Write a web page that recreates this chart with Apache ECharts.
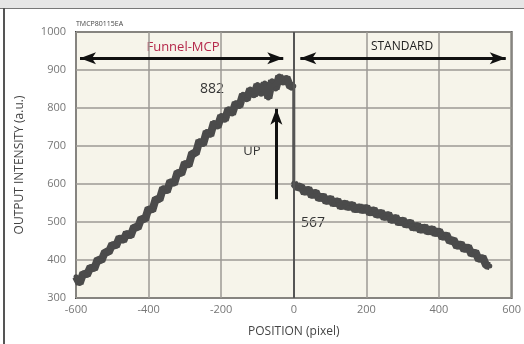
<!DOCTYPE html>
<html>
<head>
<meta charset="utf-8">
<script src="https://cdn.jsdelivr.net/npm/echarts@6/dist/echarts.min.js"></script>
<style>
  html, body { margin: 0; padding: 0; background: #fff; }
  #chart { width: 524px; height: 344px; }
</style>
</head>
<body>
<div id="chart"></div>
<script>
// Funnel-MCP side, position -600..0 every 10 px
var funnelX = [];
for (var i = -600; i <= 0; i += 10) funnelX.push(i);
var funnelY = [356, 338, 366, 360, 382, 376, 402, 398, 422, 420, 442, 436, 460, 450, 472, 462,
  488, 484, 510, 506, 536, 530, 562, 558, 590, 580, 608, 600, 632, 626, 656, 648, 682, 680,
  714, 704, 738, 728, 762, 750, 780, 768, 798, 784, 814, 804, 836, 822, 850, 832, 862, 836,
  866, 826, 872, 850, 884, 866, 880, 856, 858];

// STANDARD side, position 0..540 every 10 px
var standardX = [];
for (var j = 0; j <= 540; j += 10) standardX.push(j);
var standardY = [602, 590, 594, 576, 588, 568, 580, 560, 570, 552, 564, 546, 558, 538, 552,
  536, 548, 530, 542, 528, 540, 522, 534, 516, 527, 510, 522, 502, 514, 496, 507, 490, 501,
  482, 493, 476, 489, 472, 484, 468, 478, 458, 468, 448, 454, 434, 444, 426, 436, 414, 422,
  400, 408, 386, 384];

// drop at the boundary
var dropX = [0, 0];
var dropY = [858, 600];

var xTicks = [-600, -400, -200, 0, 200, 400, 600];
var yTicks = [300, 400, 500, 600, 700, 800, 900, 1000];

function pairs(xs, ys) {
  return xs.map(function (x, k) { return [x, ys[k]]; });
}

var chart = echarts.init(document.getElementById('chart'));
var FONT = 'Open Sans';
var BAND = '#4b4b4b';

chart.setOption({
  animation: false,
  backgroundColor: '#ffffff',
  grid: {
    left: 76, right: 12, top: 32, bottom: 46,
    show: true,
    backgroundColor: '#f6f4ea',
    borderColor: '#444',
    borderWidth: 2
  },
  xAxis: {
    type: 'value',
    min: xTicks[0], max: xTicks[xTicks.length - 1], interval: 200,
    name: 'POSITION (pixel)',
    nameLocation: 'middle',
    nameGap: 28,
    nameTextStyle: { color: '#444', fontSize: 12, fontFamily: FONT },
    axisLine: { show: false },
    axisTick: { show: false },
    axisLabel: { color: '#777', fontSize: 11, fontFamily: FONT, margin: 6 },
    splitLine: { show: true, lineStyle: { color: '#9c9a94', width: 1.5 } }
  },
  yAxis: {
    type: 'value',
    min: yTicks[0], max: yTicks[yTicks.length - 1], interval: 100,
    name: 'OUTPUT INTENSITY (a.u.)',
    nameLocation: 'middle',
    nameGap: 50,
    nameTextStyle: { color: '#444', fontSize: 12, fontFamily: FONT },
    axisLine: { show: false },
    axisTick: { show: false },
    axisLabel: { color: '#777', fontSize: 11, fontFamily: FONT, margin: 10, formatter: function (v) { return String(v); } },
    splitLine: { show: true, lineStyle: { color: '#9c9a94', width: 1.5 } }
  },
  series: [
    {
      name: 'Funnel-MCP',
      type: 'line',
      data: pairs(funnelX, funnelY),
      symbol: 'circle',
      symbolSize: 5,
      itemStyle: { color: BAND },
      lineStyle: { color: BAND, width: 8 },
      markLine: {
        silent: true,
        symbol: 'none',
        label: { show: false },
        lineStyle: { color: '#555', width: 2, type: 'solid' },
        data: [{ xAxis: 0 }]
      }
    },
    {
      name: 'drop',
      type: 'line',
      data: pairs(dropX, dropY),
      symbol: 'none',
      lineStyle: { color: BAND, width: 3 }
    },
    {
      name: 'STANDARD',
      type: 'line',
      data: pairs(standardX, standardY),
      symbol: 'circle',
      symbolSize: 5,
      itemStyle: { color: BAND },
      lineStyle: { color: BAND, width: 8 },
      markLine: {
        silent: true,
        symbol: ['arrow', 'arrow'],
        symbolSize: [9, 16],
        label: { show: false },
        lineStyle: { color: '#111', width: 3, type: 'solid' },
        data: [
          [{ coord: [-589, 931] }, { coord: [-29, 931] }],
          [{ coord: [18, 931] }, { coord: [584, 931] }],
          [{ coord: [-48, 560], symbol: 'none' }, { coord: [-48, 798] }]
        ]
      }
    }
  ],
  graphic: [
    { type: 'rect', shape: { x: 0, y: 0, width: 524, height: 8 }, style: { fill: '#e6e6e6' } },
    { type: 'line', shape: { x1: 0, y1: 8.5, x2: 524, y2: 8.5 }, style: { stroke: '#777', lineWidth: 1 } },
    { type: 'line', shape: { x1: 4, y1: 8, x2: 4, y2: 344 }, style: { stroke: '#555', lineWidth: 2 } },
    { type: 'text', x: 76, y: 20, style: { text: 'TMCP80115EA', fill: '#444', font: '7px ' + FONT } },
    { type: 'text', x: 183, y: 47, style: { text: 'Funnel-MCP', fill: '#b5284a', font: '13px ' + FONT, align: 'center', verticalAlign: 'middle' } },
    { type: 'text', x: 402, y: 47, style: { text: 'STANDARD', fill: '#222', font: '12px ' + FONT, align: 'center', verticalAlign: 'middle' } },
    { type: 'text', x: 212, y: 89, style: { text: '882', fill: '#333', font: '14px ' + FONT, align: 'center', verticalAlign: 'middle' } },
    { type: 'text', x: 252, y: 151, style: { text: 'UP', fill: '#333', font: '13px ' + FONT, align: 'center', verticalAlign: 'middle', backgroundColor: '#f6f4ea', padding: [1, 6] } },
    { type: 'text', x: 313, y: 223, style: { text: '567', fill: '#333', font: '14px ' + FONT, align: 'center', verticalAlign: 'middle', backgroundColor: '#f6f4ea', padding: [1, 6] } }
  ]
});
</script>
</body>
</html>
